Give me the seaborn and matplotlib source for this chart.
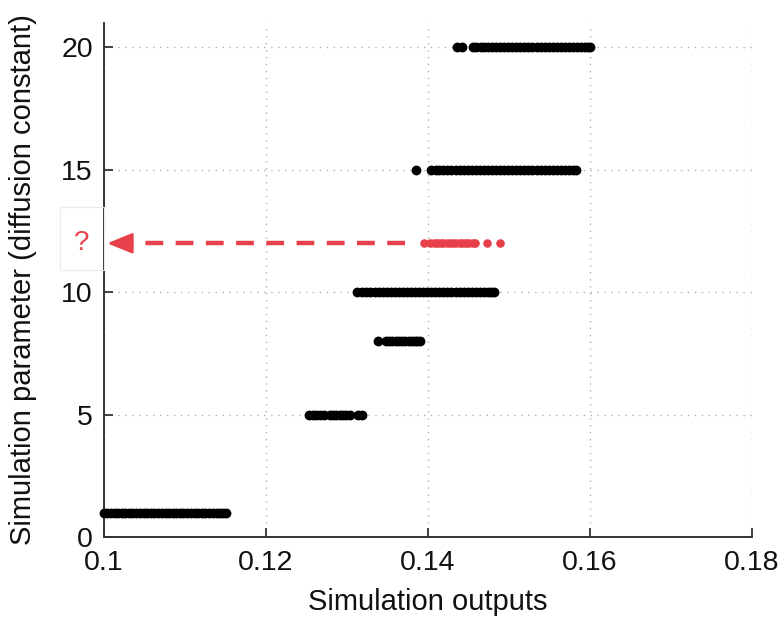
import matplotlib
matplotlib.use("Agg")
import matplotlib.pyplot as plt
import matplotlib.patches as mpatches
import numpy as np
import pandas as pd
import seaborn as sns

# Simulation outputs observed for each tested diffusion constant
param_levels = [1, 5, 8, 10, 15, 20]
outputs_d1 = [0.1000, 0.1004, 0.1009, 0.1013, 0.1017, 0.1022, 0.1026, 0.1031, 0.1035,
              0.1040, 0.1044, 0.1049, 0.1053, 0.1058, 0.1062, 0.1067, 0.1071, 0.1076,
              0.1080, 0.1085, 0.1089, 0.1094, 0.1098, 0.1103, 0.1107, 0.1112, 0.1116,
              0.1121, 0.1125, 0.1130, 0.1134, 0.1139, 0.1143, 0.1147, 0.1151]
outputs_d5 = [0.1253, 0.1258, 0.1262, 0.1267, 0.1271, 0.1279, 0.1283, 0.1287, 0.1291,
              0.1295, 0.1299, 0.1304, 0.1313, 0.1319]
outputs_d8 = [0.1338, 0.1348, 0.1352, 0.1356, 0.1360, 0.1364, 0.1368, 0.1372, 0.1376,
              0.1380, 0.1384, 0.1387, 0.1390]
outputs_d10 = [0.1312, 0.1319, 0.1324, 0.1329, 0.1334, 0.1339, 0.1344, 0.1349, 0.1354,
               0.1359, 0.1364, 0.1369, 0.1374, 0.1379, 0.1384, 0.1389, 0.1394, 0.1399,
               0.1404, 0.1409, 0.1414, 0.1419, 0.1424, 0.1429, 0.1434, 0.1439, 0.1444,
               0.1449, 0.1454, 0.1459, 0.1464, 0.1469, 0.1474, 0.1478, 0.1481]
outputs_d15 = [0.1385, 0.1404, 0.1410, 0.1414, 0.1419, 0.1424, 0.1429, 0.1434, 0.1439,
               0.1444, 0.1449, 0.1454, 0.1459, 0.1464, 0.1469, 0.1474, 0.1479, 0.1484,
               0.1489, 0.1494, 0.1499, 0.1504, 0.1509, 0.1514, 0.1519, 0.1524, 0.1529,
               0.1534, 0.1539, 0.1544, 0.1549, 0.1554, 0.1559, 0.1564, 0.1569, 0.1574,
               0.1579, 0.1583]
outputs_d20 = [0.1436, 0.1442, 0.1455, 0.1459, 0.1465, 0.1469, 0.1474, 0.1479, 0.1484,
               0.1489, 0.1494, 0.1499, 0.1504, 0.1509, 0.1514, 0.1519, 0.1524, 0.1529,
               0.1534, 0.1539, 0.1544, 0.1549, 0.1554, 0.1559, 0.1564, 0.1569, 0.1574,
               0.1579, 0.1584, 0.1589, 0.1594, 0.1598, 0.1600]

# Observed outputs whose parameter is unknown
query_param = 12
query_outputs = [0.1395, 0.1403, 0.1407, 0.1411, 0.1415, 0.1419, 0.1423, 0.1427,
                 0.1431, 0.1435, 0.1439, 0.1443, 0.1447, 0.1451, 0.1455, 0.1458,
                 0.1473, 0.1489]

x_ticks = [0.1, 0.12, 0.14, 0.16, 0.18]
x_tick_labels = ["0.1", "0.12", "0.14", "0.16", "0.18"]
y_ticks = [0, 5, 10, 15, 20]

known = pd.DataFrame({
    "output": outputs_d1 + outputs_d5 + outputs_d8 + outputs_d10 + outputs_d15 + outputs_d20,
    "param": ([1] * len(outputs_d1) + [5] * len(outputs_d5) + [8] * len(outputs_d8)
              + [10] * len(outputs_d10) + [15] * len(outputs_d15) + [20] * len(outputs_d20)),
})
query = pd.DataFrame({"output": query_outputs, "param": [query_param] * len(query_outputs)})

sns.set_style("white")
plt.rcParams["font.family"] = ["Liberation Sans", "DejaVu Sans"]

RED = "#e8404a"
INK = "#111111"

fig = plt.figure(figsize=(7.83, 6.22), dpi=100)
ax = fig.add_axes([104 / 783, 1 - 537 / 622, 648 / 783, 514 / 622])

sns.scatterplot(data=known, x="output", y="param", ax=ax, color="black",
                s=50, linewidth=0, clip_on=False, zorder=3)
sns.scatterplot(data=query, x="output", y="param", ax=ax, color=RED,
                s=38, linewidth=0, clip_on=False, zorder=3)

# dashed shaft pointing from the observed outputs back to the parameter axis
ax.plot([0.1372, 0.1044], [query_param, query_param],
        color=RED, lw=3.2, linestyle=(0, (4.0, 2.8)), dash_capstyle="butt",
        zorder=2)
ax.annotate("", xy=(0.1004, query_param), xytext=(0.1034, query_param),
            arrowprops=dict(arrowstyle="-|>,head_length=1.1,head_width=0.45",
                            color=RED, lw=2.0, mutation_scale=14,
                            shrinkA=0, shrinkB=0),
            zorder=4, annotation_clip=False)
ax.text(0.1 - 22 / 8085, query_param, "?", color=RED, fontsize=20,
        ha="center", va="center", clip_on=False)
fig.patches.append(mpatches.Rectangle((60 / 783, 1 - 270 / 622), 44 / 783, 63 / 622,
                                      transform=fig.transFigure, fill=False,
                                      edgecolor="#ececec", lw=0.8))

ax.set_xlim(0.1, 0.18)
ax.set_ylim(0, 21)
ax.set_xticks(x_ticks)
ax.set_xticklabels(x_tick_labels)
ax.set_yticks(y_ticks)

ax.grid(True, color="#b0b0b0", linestyle=(0, (1, 4)), lw=1.0)
ax.set_axisbelow(True)

for side in ("top", "right"):
    ax.spines[side].set_visible(False)
for side in ("left", "bottom"):
    ax.spines[side].set_color("#333333")
    ax.spines[side].set_linewidth(1.4)

ax.tick_params(axis="both", direction="in", length=6.5, width=1.3, color="#333333",
               labelsize=20.5, labelcolor=INK, bottom=True, left=True)
ax.tick_params(axis="y", pad=8)
ax.tick_params(axis="x", pad=9)

ax.set_xlabel("Simulation outputs", fontsize=21, color=INK)
ax.xaxis.set_label_coords(0.5, -0.099)
ax.set_ylabel("Simulation parameter (diffusion constant)", fontsize=21, color=INK)
ax.yaxis.set_label_coords(-0.103, 0.5)

fig.savefig("out.png", dpi=100)
